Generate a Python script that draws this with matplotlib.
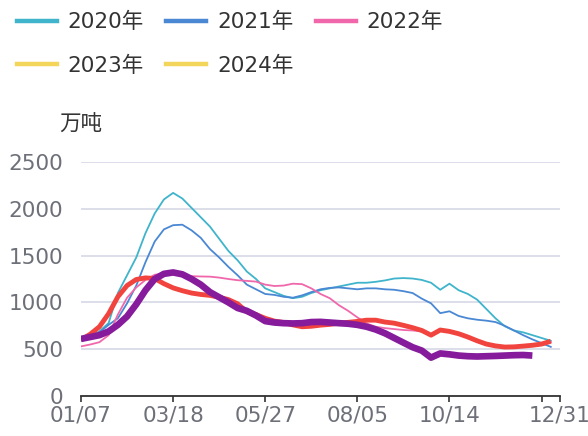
import matplotlib
matplotlib.use('Agg')
import matplotlib.pyplot as plt
from matplotlib.lines import Line2D

plt.rcParams['font.family'] = ['DejaVu Sans', 'Noto Sans CJK SC']

# weekly index 0..52, labels every 10 weeks
tick_pos = [0, 10, 20, 30, 40, 50, 52]
tick_labels = ['01/07', '03/18', '05/27', '08/05', '10/14', '', '12/31']

y2020 = [590, 640, 690, 780, 1100, 1290, 1480, 1740, 1950, 2100,
         2170, 2110, 2010, 1910, 1810, 1680, 1550, 1450, 1330, 1250,
         1150, 1110, 1070, 1045, 1060, 1100, 1130, 1150, 1170, 1190,
         1210, 1210, 1220, 1235, 1255, 1260, 1255, 1240, 1210, 1135,
         1200, 1130, 1090, 1030, 930, 830, 745, 700, 680, 650,
         620, 590]
y2021 = [600, 640, 680, 760, 830, 990, 1180, 1430, 1650, 1780,
         1825, 1830, 1770, 1690, 1570, 1480, 1380, 1290, 1190, 1140,
         1090, 1080, 1060, 1050, 1075, 1110, 1140, 1155, 1160, 1150,
         1140, 1150, 1150, 1140, 1135, 1120, 1100, 1040, 990, 885,
         905, 855, 830, 815, 805, 790, 750, 700, 650, 605,
         565, 525]
y2022 = [530, 550, 575, 650, 870, 1050, 1160, 1240, 1295, 1310,
         1300, 1285, 1280, 1277, 1275, 1265, 1250, 1237, 1230, 1222,
         1190, 1175, 1180, 1200, 1195, 1150, 1090, 1045, 970, 910,
         840, 775, 740, 725, 715, 705, 700, 690, 645, 700,
         690, 660, 625, 580, 545, 528, 518, 520, 528, 537,
         545, 575]
y2023 = [600, 660, 740, 880, 1060, 1180, 1245, 1262, 1255, 1200,
         1155, 1125, 1100, 1085, 1075, 1055, 1030, 985, 900, 870,
         830, 800, 785, 760, 740, 745, 757, 765, 778, 787,
         797, 810, 810, 790, 778, 755, 730, 700, 650, 705,
         690, 665, 630, 590, 555, 535, 523, 525, 533, 542,
         555, 585]
y2024 = [610, 630, 650, 690, 760, 850, 980, 1130, 1250, 1305,
         1320, 1300, 1250, 1190, 1110, 1055, 1000, 940, 910, 860,
         800, 785, 778, 775, 778, 790, 792, 785, 778, 772,
         760, 740, 710, 670, 620, 570, 521, 485, 410, 455,
         445, 432, 425, 422, 425, 428, 432, 436, 438, 432]

fig = plt.figure(figsize=(5.88, 4.36), dpi=100)
ax = fig.add_axes([81 / 588, 1 - 396 / 436, 479 / 588, 234 / 436])

ax.plot(range(len(y2020)), y2020, color='#3fb4cb', lw=1.3)
ax.plot(range(len(y2021)), y2021, color='#4a88d4', lw=1.3)
ax.plot(range(len(y2022)), y2022, color='#f068ab', lw=1.3)
ax.plot(range(len(y2023)), y2023, color='#f2443f', lw=3.5, solid_capstyle='butt')
ax.plot(range(len(y2024)), y2024, color='#861c9c', lw=4.8, solid_capstyle='butt')

ax.set_xlim(0, 52)
ax.set_ylim(0, 2500)
ax.set_yticks([0, 500, 1000, 1500, 2000, 2500])
ax.yaxis.grid(True, color='#d9dce8', lw=1.3)
ax.set_axisbelow(True)
ax.tick_params(axis='y', length=0, pad=13, labelsize=15.5, labelcolor='#6e7079')
ax.set_xticks(tick_pos)
ax.set_xticklabels(tick_labels)
ax.tick_params(axis='x', length=4, width=1.2, color='#333333', pad=3,
               labelsize=15.5, labelcolor='#6e7079')
for s in ['top', 'right', 'left']:
    ax.spines[s].set_visible(False)
ax.spines['bottom'].set_color('#333333')
ax.spines['bottom'].set_linewidth(1.3)

ax.text(0, 1.16, '万吨', transform=ax.transAxes, ha='center', va='center',
        fontsize=15.5, color='#333333')

names = ['2020年', '2023年', '2021年', '2024年', '2022年']
cols = ['#3fb4cb', '#f2d55a', '#4a88d4', '#f2d55a', '#f068ab']
handles = [Line2D([], [], color=c, lw=3.2) for c in cols]
fig.legend(handles, names, ncol=3, loc='upper left',
           bbox_to_anchor=(17 / 588, 1 - 12 / 436), frameon=False,
           fontsize=15.5, handlelength=1.85, handletextpad=0.5,
           columnspacing=1.05, labelspacing=1.08, borderpad=0,
           borderaxespad=0, labelcolor='#333333')

fig.savefig('out.png', dpi=100)
